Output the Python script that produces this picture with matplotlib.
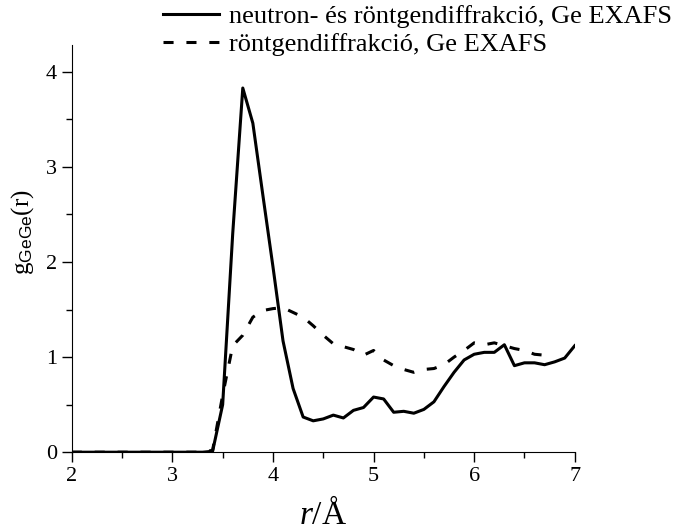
import numpy as np
import matplotlib
matplotlib.use("Agg")
import matplotlib.pyplot as plt
from matplotlib.ticker import MultipleLocator

plt.rcParams['font.family'] = ['Liberation Serif', 'DejaVu Serif']
plt.rcParams['mathtext.fontset'] = 'custom'
plt.rcParams['mathtext.rm'] = 'Liberation Serif'
plt.rcParams['mathtext.it'] = 'Liberation Serif:italic'
plt.rcParams['mathtext.sf'] = 'Liberation Sans'

# solid curve: neutron + X-ray diffraction, Ge EXAFS
r_solid = [2.0, 2.5, 3.0, 3.3, 3.4, 3.5, 3.6, 3.7, 3.8, 3.9, 4.0, 4.1, 4.2, 4.3,
           4.4, 4.5, 4.6, 4.7, 4.8, 4.9, 5.0, 5.1, 5.2, 5.3, 5.4, 5.5, 5.6,
           5.7, 5.8, 5.9, 6.0, 6.1, 6.2, 6.3, 6.4, 6.5, 6.6, 6.7, 6.8, 6.9, 7.0]
g_solid = [0.0, 0.0, 0.0, 0.0, 0.01, 0.5, 2.3, 3.83, 3.46, 2.7, 1.95, 1.17, 0.67,
           0.37, 0.33, 0.35, 0.39, 0.36, 0.44, 0.47, 0.58, 0.56, 0.42, 0.43,
           0.41, 0.45, 0.53, 0.69, 0.84, 0.97, 1.03, 1.05, 1.05, 1.13, 0.91,
           0.94, 0.94, 0.92, 0.95, 0.99, 1.12]

# dashed curve: X-ray diffraction, Ge EXAFS
r_dash = [2.0, 3.0, 3.3, 3.4, 3.5, 3.6, 3.7, 3.8, 3.9, 4.0, 4.1, 4.2, 4.3, 4.4,
          4.5, 4.6, 4.7, 4.8, 4.9, 5.0, 5.1, 5.2, 5.3, 5.4, 5.5, 5.6, 5.7,
          5.8, 5.9, 6.0, 6.1, 6.2, 6.3, 6.4, 6.5, 6.6, 6.7]
g_dash = [0.0, 0.0, 0.0, 0.02, 0.6, 1.12, 1.23, 1.42, 1.49, 1.51, 1.52, 1.47,
          1.42, 1.33, 1.23, 1.14, 1.11, 1.08, 1.02, 1.07, 0.97, 0.91, 0.87,
          0.84, 0.87, 0.88, 0.92, 1.0, 1.07, 1.15, 1.13, 1.15, 1.12, 1.09,
          1.07, 1.03, 1.02]

label_solid = "neutron- és röntgendiffrakció, Ge EXAFS"
label_dash = "röntgendiffrakció, Ge EXAFS"

fig = plt.figure(figsize=(6.77, 5.32), dpi=100)
ax = fig.add_axes([0.106, 0.150, 0.743, 0.765])

ax.plot(r_solid, g_solid, color='black', lw=2.2, label=label_solid)
ax.plot(r_dash, g_dash, color='black', lw=2.2, dashes=(3.3, 4.2), label=label_dash)

ax.set_xlim(2, 7)
ax.set_ylim(0, 4.28)
ax.xaxis.set_major_locator(MultipleLocator(1))
ax.xaxis.set_minor_locator(MultipleLocator(0.5))
ax.yaxis.set_major_locator(MultipleLocator(1))
ax.yaxis.set_minor_locator(MultipleLocator(0.5))
ax.tick_params(which='major', direction='out', length=7, width=1, labelsize=16)
ax.tick_params(which='minor', direction='out', length=4, width=1)
ax.spines['top'].set_visible(False)
ax.spines['right'].set_visible(False)

ax.set_xlabel(r'$\mathit{r}$/Å', fontsize=24, labelpad=9)
ax.set_ylabel(r'g$_{\mathsf{GeGe}}$(r)', fontsize=18)
ax.yaxis.set_label_coords(-0.072, 0.54)

fig.legend(loc='upper right', bbox_to_anchor=(0.997, 0.996), frameon=False,
           fontsize=19, handlelength=2.15, handletextpad=0.38, labelspacing=0.18,
           borderaxespad=0.0, borderpad=0.1)

fig.savefig("out.png", dpi=100)
